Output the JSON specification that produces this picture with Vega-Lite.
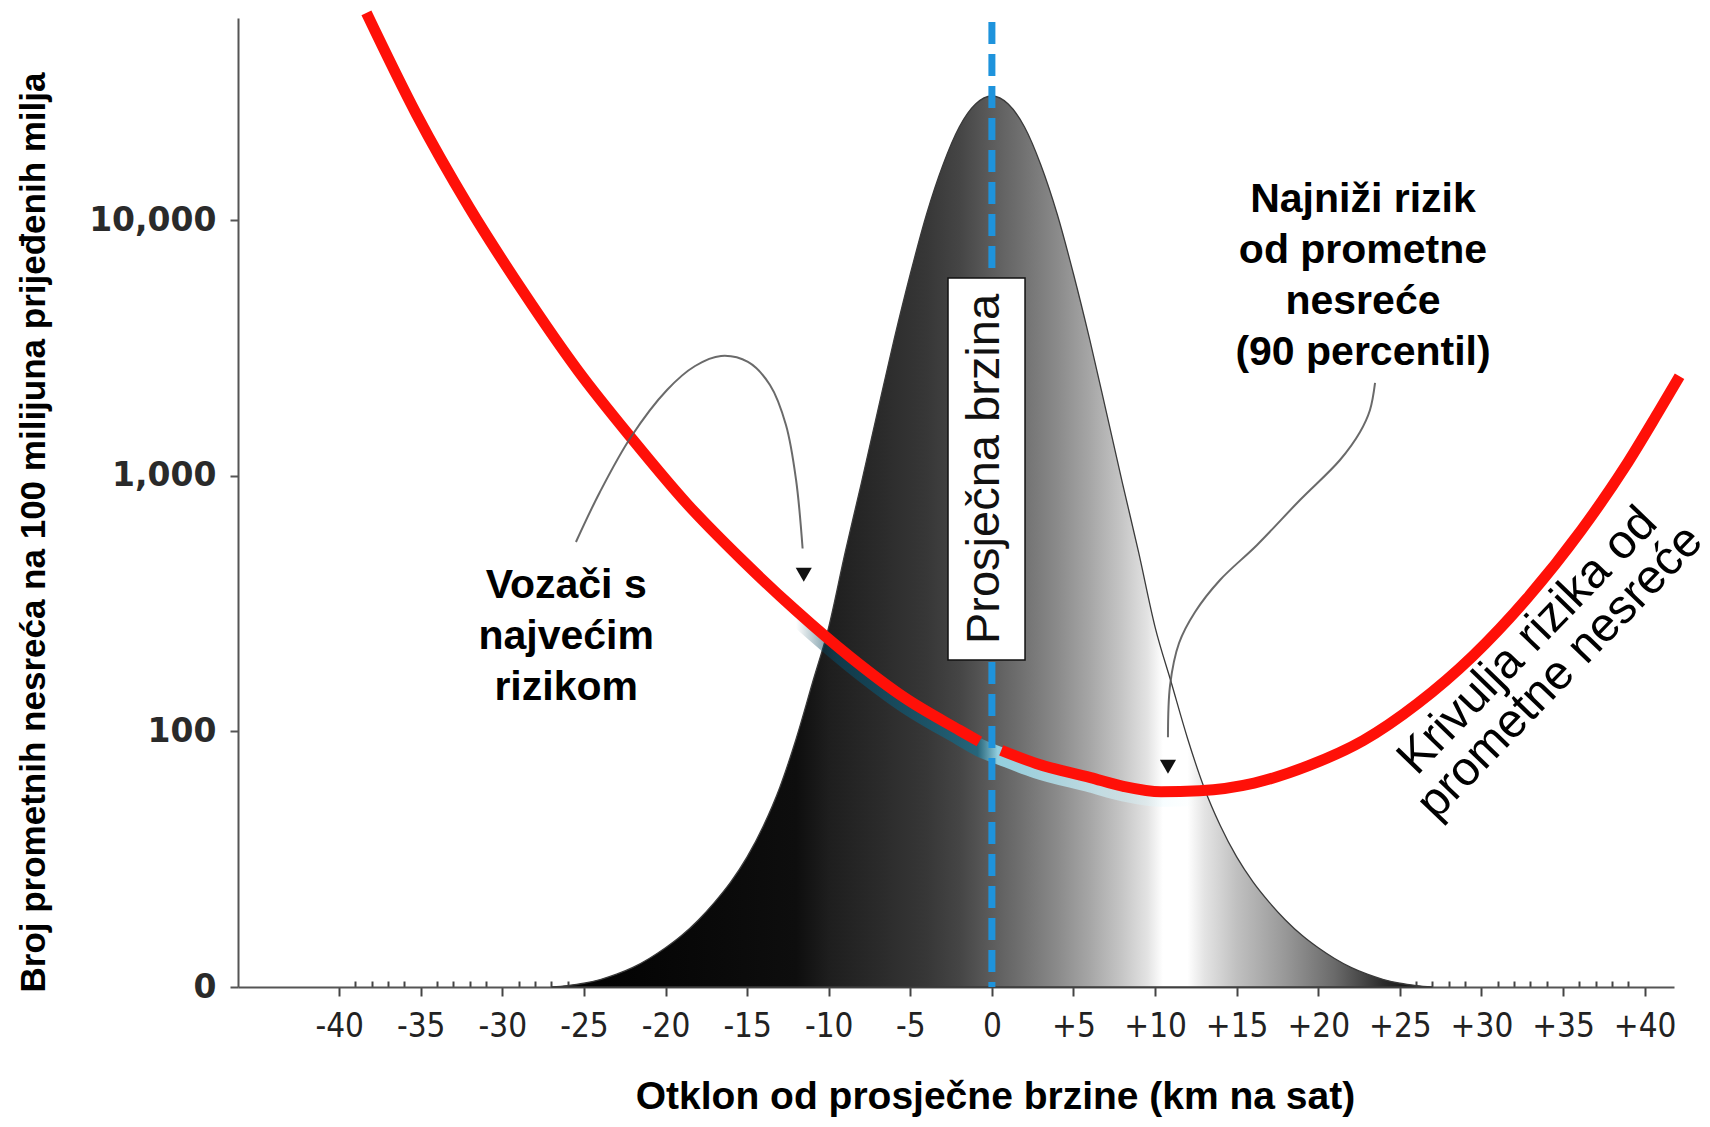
{
  "$schema": "https://vega.github.io/schema/vega-lite/v6.json",
  "width": 1436,
  "height": 969,
  "autosize": {"type": "none"},
  "padding": {"left": 238, "top": 18, "right": 36, "bottom": 140},
  "background": "white",
  "config": {"view": {"stroke": null}},
  "datasets": {
    "raspodjela": [
      {"km": -27, "udio": 0}, {"km": -26, "udio": 0.008}, {"km": -25, "udio": 0.021}, {"km": -24, "udio": 0.042},
      {"km": -23, "udio": 0.072}, {"km": -22, "udio": 0.11}, {"km": -21, "udio": 0.16}, {"km": -20, "udio": 0.22},
      {"km": -19, "udio": 0.29}, {"km": -18, "udio": 0.375}, {"km": -17, "udio": 0.475}, {"km": -16, "udio": 0.59},
      {"km": -15, "udio": 0.73}, {"km": -14, "udio": 0.905}, {"km": -13, "udio": 1.12}, {"km": -12, "udio": 1.392},
      {"km": -11, "udio": 1.706}, {"km": -10, "udio": 2.02}, {"km": -9, "udio": 2.436}, {"km": -8, "udio": 2.828},
      {"km": -7, "udio": 3.232}, {"km": -6, "udio": 3.631}, {"km": -5, "udio": 4.001}, {"km": -4, "udio": 4.338},
      {"km": -3, "udio": 4.613}, {"km": -2, "udio": 4.826}, {"km": -1, "udio": 4.955}, {"km": 0, "udio": 5.0},
      {"km": 1, "udio": 4.955}, {"km": 2, "udio": 4.826}, {"km": 3, "udio": 4.613}, {"km": 4, "udio": 4.338},
      {"km": 5, "udio": 4.001}, {"km": 6, "udio": 3.631}, {"km": 7, "udio": 3.232}, {"km": 8, "udio": 2.828},
      {"km": 9, "udio": 2.436}, {"km": 10, "udio": 2.02}, {"km": 11, "udio": 1.706}, {"km": 12, "udio": 1.392},
      {"km": 13, "udio": 1.12}, {"km": 14, "udio": 0.905}, {"km": 15, "udio": 0.73}, {"km": 16, "udio": 0.59},
      {"km": 17, "udio": 0.475}, {"km": 18, "udio": 0.375}, {"km": 19, "udio": 0.29}, {"km": 20, "udio": 0.22},
      {"km": 21, "udio": 0.16}, {"km": 22, "udio": 0.11}, {"km": 23, "udio": 0.072}, {"km": 24, "udio": 0.042},
      {"km": 25, "udio": 0.021}, {"km": 26, "udio": 0.008}, {"km": 27, "udio": 0}
    ],
    "rizik": [
      {"dio": "L", "km": -38.33, "stopa": 64860},
      {"dio": "L", "km": -35.26, "stopa": 26000},
      {"dio": "L", "km": -32.04, "stopa": 11270},
      {"dio": "L", "km": -28.7, "stopa": 5236},
      {"dio": "L", "km": -25.36, "stopa": 2582},
      {"dio": "L", "km": -22.02, "stopa": 1390},
      {"dio": "L", "km": -18.68, "stopa": 778},
      {"dio": "L", "km": -15.34, "stopa": 471},
      {"dio": "L", "km": -12.0, "stopa": 297},
      {"dio": "L", "km": -8.65, "stopa": 195},
      {"dio": "L", "km": -5.31, "stopa": 135},
      {"dio": "L", "km": -1.97, "stopa": 101},
      {"dio": "L", "km": -0.77, "stopa": 91.3},
      {"dio": "R", "km": 0.57, "stopa": 84.4},
      {"dio": "R", "km": 2.71, "stopa": 75.0},
      {"dio": "R", "km": 6.05, "stopa": 66.0},
      {"dio": "R", "km": 8.05, "stopa": 61.0},
      {"dio": "R", "km": 10.37, "stopa": 58.1},
      {"dio": "R", "km": 12.72, "stopa": 58.65},
      {"dio": "R", "km": 16.07, "stopa": 62.84},
      {"dio": "R", "km": 19.41, "stopa": 73.5},
      {"dio": "R", "km": 22.76, "stopa": 92.2},
      {"dio": "R", "km": 26.1, "stopa": 128.8},
      {"dio": "R", "km": 29.44, "stopa": 196.6},
      {"dio": "R", "km": 32.78, "stopa": 331},
      {"dio": "R", "km": 36.13, "stopa": 614.6},
      {"dio": "R", "km": 38.8, "stopa": 1086},
      {"dio": "R", "km": 40.8, "stopa": 1760},
      {"dio": "R", "km": 42.14, "stopa": 2455}
    ],
    "prosjek": [{"km": 0, "stopa": 59800, "dno": 10}],
    "okvir": [{"km": -2.69, "km2": 2.03, "stopa": 5957, "stopa2": 190.5}],
    "oznaka": [{"km": -0.4, "stopa": 1065, "tekst": "Prosječna brzina"}],
    "strelice": [
      {"strelica": "lijeva", "i": 0, "km": -25.49, "stopa": 551.6},
      {"strelica": "lijeva", "i": 1, "km": -24.02, "stopa": 865.9},
      {"strelica": "lijeva", "i": 2, "km": -22.12, "stopa": 1421},
      {"strelica": "lijeva", "i": 3, "km": -19.91, "stopa": 2171},
      {"strelica": "lijeva", "i": 4, "km": -18.19, "stopa": 2694},
      {"strelica": "lijeva", "i": 5, "km": -16.6, "stopa": 2949},
      {"strelica": "lijeva", "i": 6, "km": -14.95, "stopa": 2794},
      {"strelica": "lijeva", "i": 7, "km": -13.6, "stopa": 2271},
      {"strelica": "lijeva", "i": 8, "km": -12.62, "stopa": 1583},
      {"strelica": "lijeva", "i": 9, "km": -12.0, "stopa": 964.5},
      {"strelica": "lijeva", "i": 10, "km": -11.6, "stopa": 520},
      {"strelica": "desna", "i": 0, "km": 23.48, "stopa": 2312},
      {"strelica": "desna", "i": 1, "km": 23.17, "stopa": 1813},
      {"strelica": "desna", "i": 2, "km": 22.56, "stopa": 1487},
      {"strelica": "desna", "i": 3, "km": 21.33, "stopa": 1155},
      {"strelica": "desna", "i": 4, "km": 18.88, "stopa": 805.5},
      {"strelica": "desna", "i": 5, "km": 16.25, "stopa": 537},
      {"strelica": "desna", "i": 6, "km": 13.98, "stopa": 391.7},
      {"strelica": "desna", "i": 7, "km": 12.45, "stopa": 293.6},
      {"strelica": "desna", "i": 8, "km": 11.47, "stopa": 222},
      {"strelica": "desna", "i": 9, "km": 10.92, "stopa": 152},
      {"strelica": "desna", "i": 10, "km": 10.79, "stopa": 95}
    ],
    "vrhovi": [{"km": -11.53, "stopa": 411}, {"km": 10.79, "stopa": 72.8}],
    "natpisi": [
      {"km": -26.09, "stopa": 372.4, "tekst": "Vozači s\nnajvećim\nrizikom"},
      {"km": 22.74, "stopa": 12070, "tekst": "Najniži rizik\nod prometne\nnesreće\n(90 percentil)"}
    ],
    "krivulja": [{"km": 32.85, "stopa": 226, "tekst": "Krivulja rizika od\nprometne nesreće"}]
  },
  "encoding": {
    "x": {
      "field": "km", "type": "quantitative",
      "scale": {"domain": [-46.2, 41.8], "nice": false, "zero": false},
      "axis": {
        "title": "Otklon od prosječne brzine  (km na sat)",
        "values": [-40,-39,-38,-37,-36,-35,-34,-33,-32,-31,-30,-29,-28,-27,-26,-25,-24,-23,-22,-21,-20,-19,-18,-17,-16,-15,-14,-13,-12,-11,-10,-9,-8,-7,-6,-5,-4,-3,-2,-1,0,1,2,3,4,5,6,7,8,9,10,11,12,13,14,15,16,17,18,19,20,21,22,23,24,25,26,27,28,29,30,31,32,33,34,35,36,37,38,39,40],
        "labelExpr": "datum.value % 5 === 0 ? (datum.value > 0 ? '+' + datum.value : '' + datum.value) : ''",
        "labelOverlap": false,
        "labelFlush": false,
        "labelBound": false,
        "labelFont": "DejaVu Sans Condensed, DejaVu Sans",
        "labelFontSize": 33,
        "labelColor": "#222222",
        "labelPadding": 14,
        "tickSize": {"condition": {"test": "datum.value % 5 === 0", "value": 9}, "value": -6},
        "tickColor": "#444444",
        "tickWidth": 2,
        "domainColor": "#555555",
        "domainWidth": 2,
        "grid": false,
        "titleFont": "Liberation Sans",
        "titleFontSize": 39,
        "titleFontWeight": "bold",
        "titleColor": "#000000",
        "titleX": 757,
        "titleY": 109,
        "titleAlign": "center",
        "titleBaseline": "middle"
      }
    }
  },
  "layer": [
    {
      "data": {"name": "raspodjela"},
      "mark": {
        "type": "area",
        "interpolate": "monotone",
        "opacity": 1,
        "fillOpacity": 1,
        "stroke": "#3a3a3a",
        "strokeWidth": 1.3,
        "fill": {
          "gradient": "linear", "x1": 0, "y1": 0, "x2": 1, "y2": 0,
          "stops": [
            {"offset": 0, "color": "#000000"},
            {"offset": 0.278, "color": "#0e0e0e"},
            {"offset": 0.315, "color": "#1e1e1e"},
            {"offset": 0.37, "color": "#2a2a2a"},
            {"offset": 0.426, "color": "#373737"},
            {"offset": 0.463, "color": "#454545"},
            {"offset": 0.5, "color": "#5c5c5c"},
            {"offset": 0.537, "color": "#727272"},
            {"offset": 0.574, "color": "#8a8a8a"},
            {"offset": 0.611, "color": "#a6a6a6"},
            {"offset": 0.648, "color": "#c6c6c6"},
            {"offset": 0.676, "color": "#e2e2e2"},
            {"offset": 0.694, "color": "#ffffff"},
            {"offset": 0.722, "color": "#ffffff"},
            {"offset": 0.741, "color": "#e4e4e4"},
            {"offset": 0.778, "color": "#c0c0c0"},
            {"offset": 0.833, "color": "#989898"},
            {"offset": 0.889, "color": "#6a6a6a"},
            {"offset": 0.944, "color": "#2c2c2c"},
            {"offset": 1, "color": "#000000"}
          ]
        }
      },
      "encoding": {
        "y": {
          "field": "udio", "type": "quantitative",
          "scale": {"domain": [0, 5.4377], "nice": false, "zero": true},
          "axis": null
        }
      }
    },
    {
      "encoding": {
        "y": {
          "field": "stopa", "type": "quantitative",
          "scale": {"type": "log", "domain": [10, 62000], "nice": false},
          "axis": {
            "orient": "left",
            "title": "Broj prometnih nesreća na 100 milijuna prijeđenih milja",
            "values": [10, 100, 1000, 10000],
            "labelExpr": "datum.value === 10 ? '0' : format(datum.value, ',')",
            "labelFont": "DejaVu Sans",
            "labelFontWeight": "bold",
            "labelFontSize": 33,
            "labelColor": "#2a2a2a",
            "labelPadding": 14,
            "labelOverlap": false,
            "labelFlush": false,
            "tickSize": 8,
            "tickColor": "#555555",
            "tickWidth": 2,
            "domainColor": "#555555",
            "domainWidth": 2,
            "grid": false,
            "titleFont": "Liberation Sans",
            "titleFontSize": 35,
            "titleFontWeight": "bold",
            "titleColor": "#000000",
            "titleX": -205,
            "titleY": 514,
            "titleAngle": 270,
            "titleAlign": "center",
            "titleBaseline": "middle"
          }
        }
      },
      "layer": [
        {
          "data": {"name": "rizik"},
          "transform": [{"filter": "datum.km >= -12.5 && datum.km <= 13"}],
          "mark": {
            "type": "line",
            "interpolate": "monotone",
            "strokeWidth": 18,
            "yOffset": 6,
            "strokeCap": "butt",
            "stroke": {
              "gradient": "linear", "x1": 0, "y1": 0, "x2": 1, "y2": 0,
              "stops": [
                {"offset": 0, "color": "rgba(0,60,80,0)"},
                {"offset": 0.1, "color": "rgba(8,70,95,0.65)"},
                {"offset": 0.45, "color": "rgba(20,110,140,0.7)"},
                {"offset": 0.5, "color": "rgba(160,235,255,0.8)"},
                {"offset": 0.75, "color": "rgba(205,245,255,0.65)"},
                {"offset": 1, "color": "rgba(230,250,255,0)"}
              ]
            }
          }
        },
        {
          "data": {"name": "rizik"},
          "mark": {"type": "line", "interpolate": "monotone", "strokeWidth": 11, "color": "#ff1008", "strokeCap": "butt"},
          "encoding": {"detail": {"field": "dio", "type": "nominal"}}
        },
        {
          "data": {"name": "prosjek"},
          "mark": {"type": "rule", "color": "#1e93dc", "strokeWidth": 7, "strokeDash": [22, 10]},
          "encoding": {"y2": {"field": "dno"}}
        },
        {
          "data": {"name": "okvir"},
          "mark": {"type": "rect", "fill": "#ffffff", "stroke": "#111111", "strokeWidth": 1.5},
          "encoding": {"x2": {"field": "km2"}, "y2": {"field": "stopa2"}}
        },
        {
          "data": {"name": "oznaka"},
          "mark": {"type": "text", "angle": 270, "align": "center", "baseline": "middle", "font": "Liberation Sans", "fontSize": 47, "color": "#111111"},
          "encoding": {"text": {"field": "tekst"}}
        },
        {
          "data": {"name": "strelice"},
          "mark": {"type": "line", "interpolate": "catmull-rom", "stroke": "#5a5a5a", "strokeWidth": 2, "opacity": 0.9},
          "encoding": {
            "detail": {"field": "strelica", "type": "nominal"},
            "order": {"field": "i", "type": "quantitative"}
          }
        },
        {
          "data": {"name": "vrhovi"},
          "mark": {"type": "point", "shape": "triangle-down", "filled": true, "size": 260, "color": "#111111", "opacity": 1}
        },
        {
          "data": {"name": "natpisi"},
          "mark": {"type": "text", "align": "center", "baseline": "middle", "lineBreak": "\n", "lineHeight": 51, "font": "Liberation Sans", "fontWeight": "bold", "fontSize": 41, "color": "#000000"},
          "encoding": {"text": {"field": "tekst"}}
        },
        {
          "data": {"name": "krivulja"},
          "mark": {"type": "text", "align": "center", "baseline": "middle", "angle": 314, "lineBreak": "\n", "lineHeight": 45, "font": "Liberation Sans", "fontSize": 48, "color": "#000000"},
          "encoding": {"text": {"field": "tekst"}}
        }
      ]
    }
  ],
  "resolve": {"scale": {"y": "independent"}}
}
